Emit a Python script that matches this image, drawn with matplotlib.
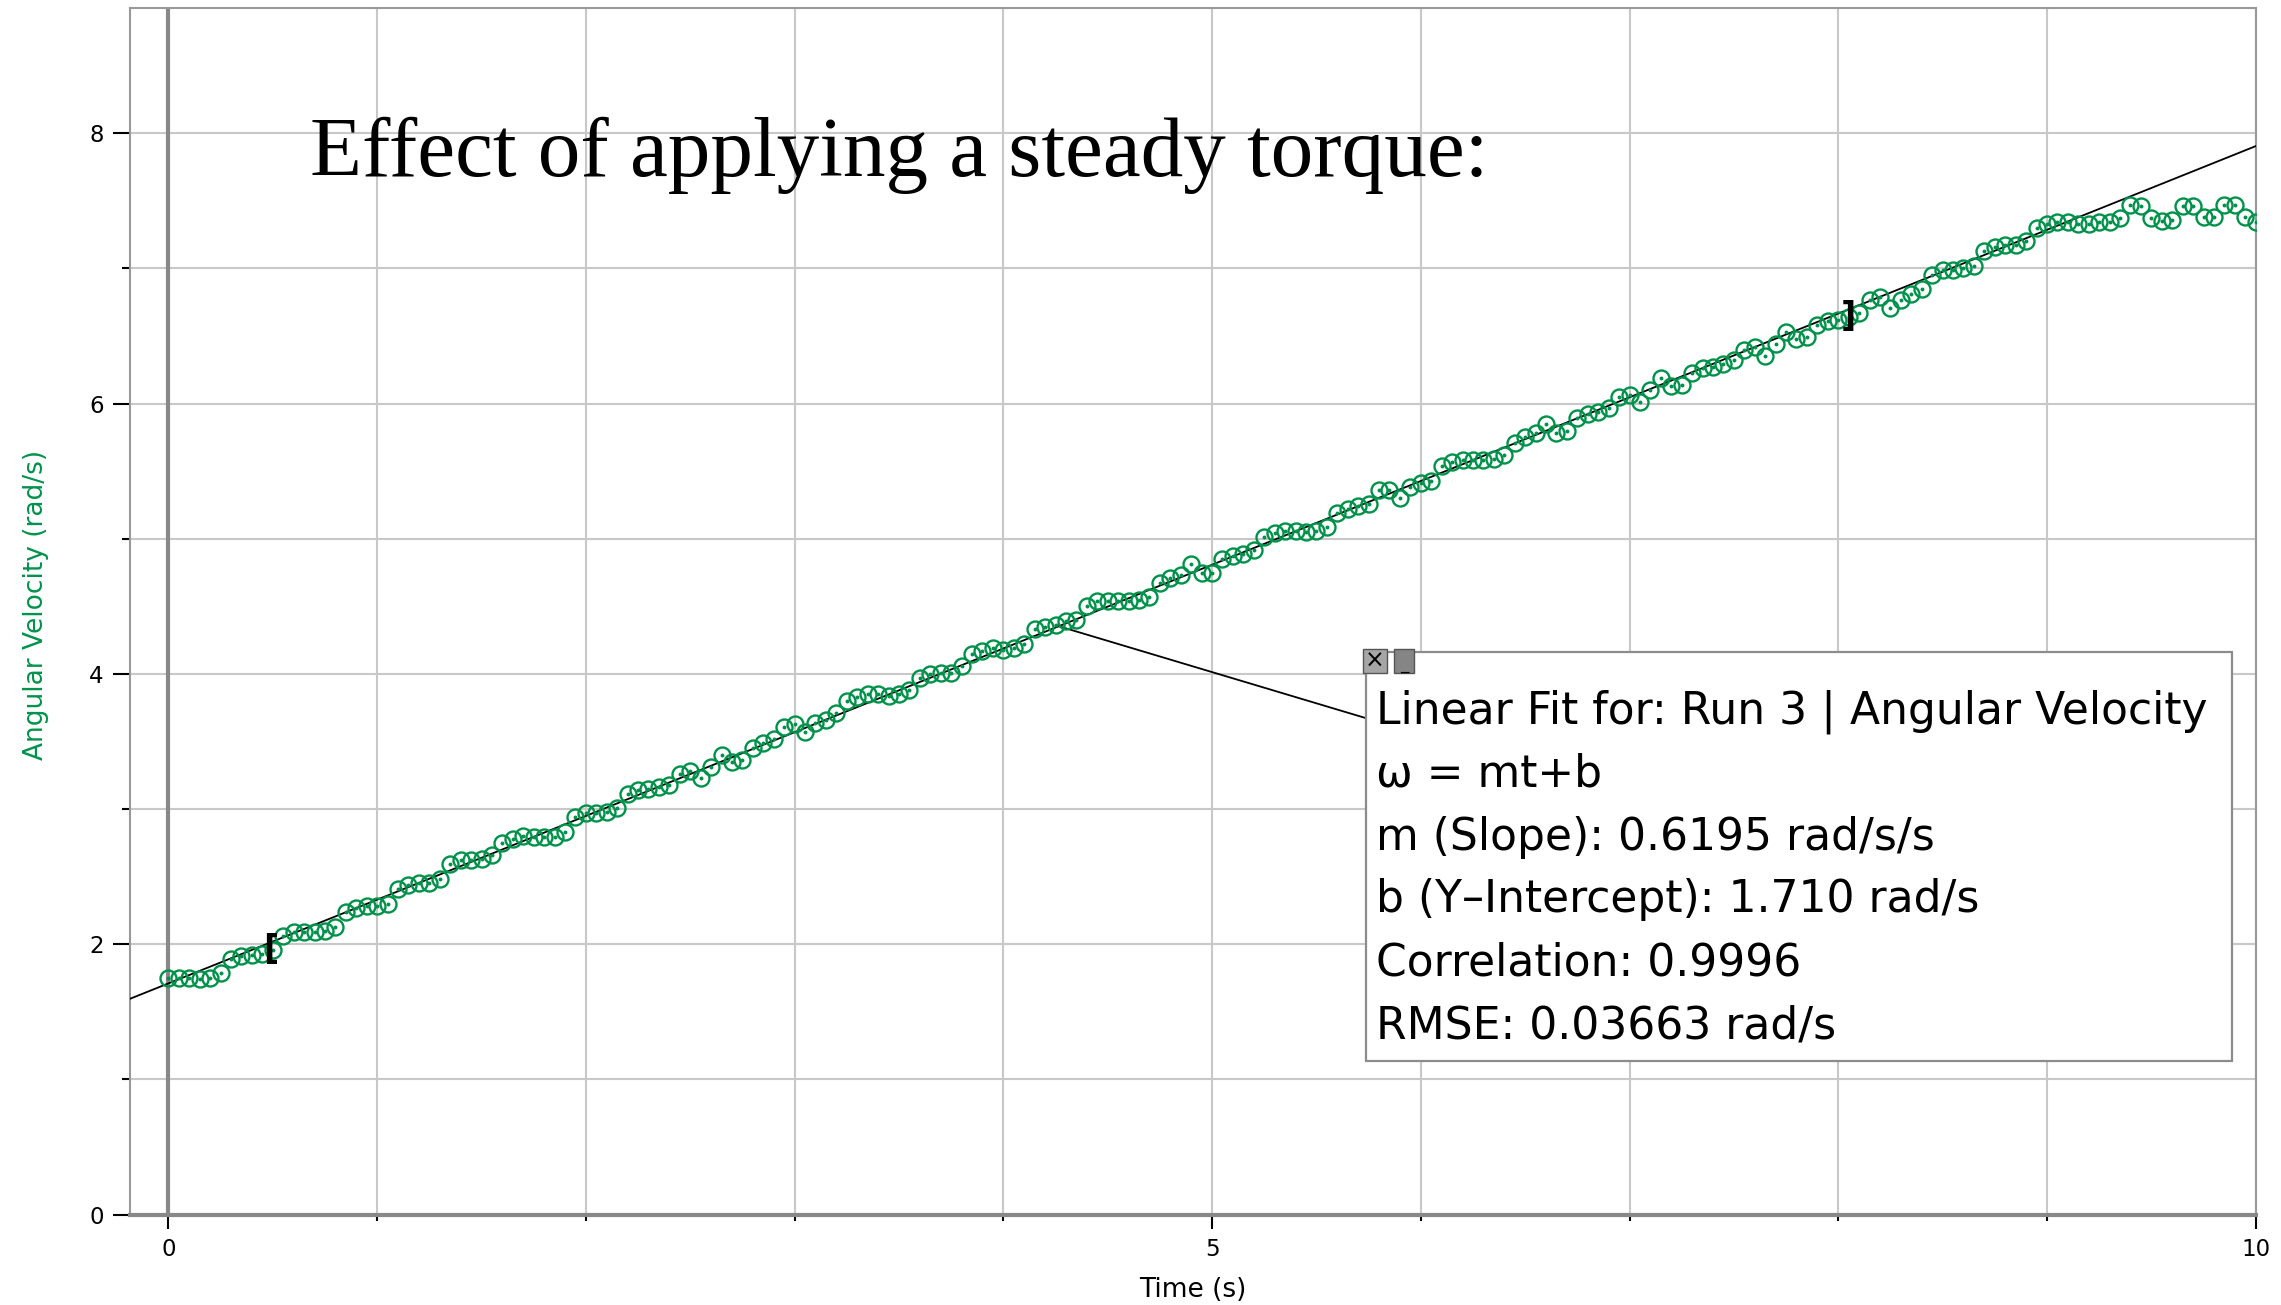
import numpy as np
import matplotlib
matplotlib.use("Agg")
import matplotlib.pyplot as plt
from matplotlib.patches import Rectangle

# ---------------- data ----------------
sample_interval = 0.05  # s  (20 samples per second)
angular_velocity = [
    1.75, 1.75, 1.75, 1.74, 1.75, 1.79, 1.89, 1.91, 1.92, 1.93,
    1.96, 2.06, 2.09, 2.09, 2.09, 2.10, 2.13, 2.24, 2.27, 2.28,
    2.28, 2.30, 2.41, 2.44, 2.45, 2.45, 2.48, 2.59, 2.62, 2.62,
    2.63, 2.66, 2.75, 2.78, 2.80, 2.79, 2.79, 2.79, 2.83, 2.94,
    2.97, 2.97, 2.98, 3.01, 3.11, 3.14, 3.15, 3.16, 3.18, 3.26,
    3.28, 3.23, 3.31, 3.40, 3.35, 3.36, 3.45, 3.49, 3.52, 3.61,
    3.63, 3.57, 3.64, 3.66, 3.71, 3.80, 3.83, 3.85, 3.85, 3.84,
    3.85, 3.88, 3.97, 4.00, 4.01, 4.01, 4.06, 4.15, 4.17, 4.19,
    4.18, 4.19, 4.22, 4.33, 4.35, 4.36, 4.39, 4.40, 4.50, 4.54,
    4.54, 4.54, 4.54, 4.55, 4.57, 4.67, 4.71, 4.73, 4.81, 4.75,
    4.75, 4.85, 4.87, 4.89, 4.92, 5.01, 5.04, 5.06, 5.06, 5.05,
    5.06, 5.09, 5.19, 5.22, 5.24, 5.26, 5.36, 5.36, 5.30, 5.38,
    5.41, 5.43, 5.54, 5.57, 5.58, 5.58, 5.58, 5.59, 5.62, 5.71,
    5.75, 5.78, 5.85, 5.78, 5.80, 5.89, 5.92, 5.94, 5.97, 6.05,
    6.06, 6.01, 6.10, 6.19, 6.13, 6.14, 6.23, 6.26, 6.27, 6.29,
    6.32, 6.40, 6.42, 6.35, 6.44, 6.53, 6.48, 6.49, 6.58, 6.61,
    6.62, 6.64, 6.67, 6.77, 6.79, 6.71, 6.77, 6.81, 6.85, 6.95,
    6.99, 6.99, 7.00, 7.02, 7.13, 7.16, 7.17, 7.17, 7.20, 7.30,
    7.33, 7.34, 7.34, 7.33, 7.33, 7.34, 7.34, 7.37, 7.47, 7.46,
    7.37, 7.35, 7.36, 7.46, 7.46, 7.38, 7.38, 7.47, 7.47, 7.38,
    7.34,
]
time = np.arange(len(angular_velocity)) * sample_interval

fit_slope = 0.6195
fit_intercept = 1.710
fit_range = [0.49, 8.05]
anchor_index = 85

title = "Effect of applying a steady torque:"
fit_lines = [
    "Linear Fit for: Run 3 | Angular Velocity",
    "\u03c9 = mt+b",
    "m (Slope): 0.6195 rad/s/s",
    "b (Y\u2013Intercept): 1.710 rad/s",
    "Correlation: 0.9996",
    "RMSE: 0.03663 rad/s",
]
x_major = [0, 5, 10]
x_minor = list(range(0, 11))
y_major = [0, 2, 4, 6, 8]
y_minor = [1, 3, 5, 7]

# ---------------- figure ----------------
W, H = 2281, 1305
fig = plt.figure(figsize=(W / 100, H / 100), dpi=100)
plt.rcParams['font.family'] = ['DejaVu Sans']

green = '#00924a'
ax = fig.add_axes([130 / W, 1 - 1214.5 / H, (2255.7 - 130) / W, (1214.5 - 7.6) / H])
ax.set_xlim(-0.184, 10.0)
ax.set_ylim(0, 8.93)

ax.set_xticks(x_major)
ax.set_xticks(x_minor, minor=True)
ax.set_yticks(y_major)
ax.set_yticks(y_minor, minor=True)
ax.set_xticklabels([str(v) for v in x_major])
ax.grid(True, which='both', color='#c8c8c8', lw=1.5)
ax.set_axisbelow(True)

ax.tick_params(axis='x', which='major', length=10, width=1.5, labelsize=16.5, pad=7, color='black')
ax.tick_params(axis='x', which='minor', length=4.5, width=1.5, color='black')
ax.tick_params(axis='y', which='major', length=12, width=1.5, labelsize=16.5, pad=7, color='black')
ax.tick_params(axis='y', which='minor', length=6, width=1.5, color='black')

for side in ['left', 'top', 'right']:
    ax.spines[side].set_color('#999999')
    ax.spines[side].set_linewidth(1.5)
ax.spines['bottom'].set_color('#888888')
ax.spines['bottom'].set_linewidth(3.0)

ax.axvline(0, color='#888888', lw=3.0, zorder=1.5)

# fit line
ax.axline((0, fit_intercept), slope=fit_slope, color='black', lw=1.3, zorder=3)

# data
ax.plot(time, angular_velocity, linestyle='none', marker='o', markersize=11.5,
        markerfacecolor='none', markeredgecolor=green, markeredgewidth=1.7, zorder=4)
ax.plot(time, angular_velocity, linestyle='none', marker='o', markersize=1.8,
        color=green, zorder=4)

# fit range brackets
ax.text(fit_range[0], fit_intercept + fit_slope * fit_range[0] - 0.05, '[',
        fontsize=24, fontweight='bold', ha='center', va='center', zorder=5)
ax.text(fit_range[1], fit_intercept + fit_slope * fit_range[1] - 0.05, ']',
        fontsize=24, fontweight='bold', ha='center', va='center', zorder=5)

# labels
ax.set_xlabel('Time (s)', fontsize=19)
ax.xaxis.set_label_coords(0.5, -0.0626)
ax.xaxis.label.set_va('center')
ax.set_ylabel('Angular Velocity (rad/s)', fontsize=19, color=green)
ax.yaxis.set_label_coords(-0.044, 0.505)
ax.yaxis.label.set_va('center')

# title
fig.text(310 / W, 1 - 176 / H, title, fontsize=61.3, family='Liberation Serif',
         ha='left', va='baseline')

# annotation connector
ax.annotate('', xy=(time[anchor_index], angular_velocity[anchor_index]), xycoords='data',
            xytext=(1365.5, H - 718), textcoords='figure pixels',
            arrowprops=dict(arrowstyle='-', color='black', lw=1.3, shrinkA=0, shrinkB=0),
            zorder=3)

# box
bx0, bx1, by0, by1 = 1365.5, 2231.5, 652, 1061
fig.add_artist(Rectangle((bx0 / W, 1 - by1 / H), (bx1 - bx0) / W, (by1 - by0) / H,
                         facecolor='white', edgecolor='#8c8c8c', lw=1.6,
                         transform=fig.transFigure, zorder=5))
for k, line in enumerate(fit_lines):
    fig.text(1375.5 / W, 1 - (724 + 62.8 * k) / H, line, fontsize=31.7,
             ha='left', va='baseline', zorder=6)

# window buttons
fig.add_artist(Rectangle((1363 / W, 1 - 673 / H), 24 / W, 24 / H,
                         facecolor='#a6a6a6', edgecolor='#555555', lw=1.0,
                         transform=fig.transFigure, zorder=7))
fig.text(1375 / W, 1 - 661 / H, '\u00d7', fontsize=17, ha='center', va='center', zorder=8)
fig.add_artist(Rectangle((1394 / W, 1 - 673 / H), 20 / W, 24 / H,
                         facecolor='#858585', edgecolor='#555555', lw=1.0,
                         transform=fig.transFigure, zorder=7))
fig.text(1404 / W, 1 - 664 / H, '_', fontsize=12, ha='center', va='center', zorder=8)

fig.savefig('out.png', dpi=100)
